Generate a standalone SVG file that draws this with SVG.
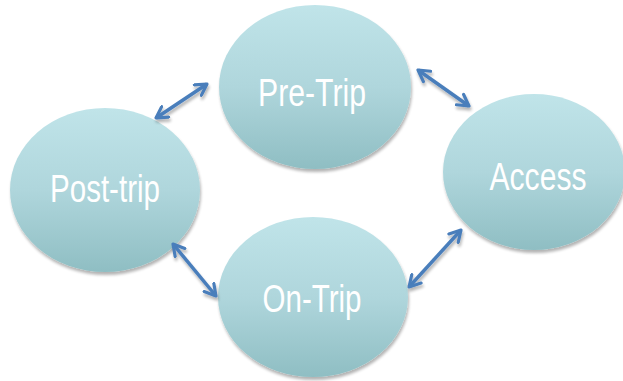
<svg xmlns="http://www.w3.org/2000/svg" width="623" height="381" viewBox="0 0 623 381">
<defs>
<linearGradient id="g" x1="0" y1="0" x2="0" y2="1">
<stop offset="0" stop-color="#c0e4e9"/>
<stop offset="0.5" stop-color="#afd6dc"/>
<stop offset="1" stop-color="#8fbec3"/>
</linearGradient>
<filter id="sh" x="-20%" y="-20%" width="140%" height="140%">
<feGaussianBlur in="SourceAlpha" stdDeviation="1.5"/>
<feOffset dx="1" dy="3" result="b"/>
<feComponentTransfer><feFuncA type="linear" slope="0.3"/></feComponentTransfer>
<feMerge><feMergeNode/><feMergeNode in="SourceGraphic"/></feMerge>
</filter>
<marker id="ah" viewBox="0 0 10 10" refX="8" refY="5" markerWidth="4.5" markerHeight="4.5" orient="auto-start-reverse" markerUnits="strokeWidth">
<path d="M1,1 L8,5 L1,9" fill="none" stroke="#4a7ebb" stroke-width="2" stroke-linecap="round" stroke-linejoin="round"/>
</marker>
</defs>
<style>
.n ellipse{fill:url(#g);filter:url(#sh)}
.n text{font-family:"Liberation Sans",Arial,sans-serif;font-size:39px;fill:#ffffff;text-anchor:middle}
.c line{stroke:#4a7ebb;stroke-width:3.5;marker-start:url(#ah);marker-end:url(#ah);filter:url(#sh)}
</style>
<g id="pretrip" class="n"><ellipse cx="315" cy="87" rx="96" ry="82"/><text x="312" y="106" textLength="108" lengthAdjust="spacingAndGlyphs">Pre-Trip</text></g>
<g id="access" class="n"><ellipse cx="534" cy="172" rx="91" ry="78"/><text x="538" y="190" textLength="97" lengthAdjust="spacingAndGlyphs">Access</text></g>
<g id="posttrip" class="n"><ellipse cx="105" cy="190" rx="95" ry="82"/><text x="105" y="202" textLength="110" lengthAdjust="spacingAndGlyphs">Post-trip</text></g>
<g id="ontrip" class="n"><ellipse cx="313" cy="297" rx="95" ry="80"/><text x="312" y="312" textLength="99" lengthAdjust="spacingAndGlyphs">On-Trip</text></g>
<g id="connectors" class="c">
<line x1="156" y1="118" x2="207" y2="84"/>
<line x1="418" y1="70" x2="469" y2="106"/>
<line x1="173" y1="244" x2="216" y2="296"/>
<line x1="461" y1="230" x2="409" y2="287"/>
</g>
</svg>
